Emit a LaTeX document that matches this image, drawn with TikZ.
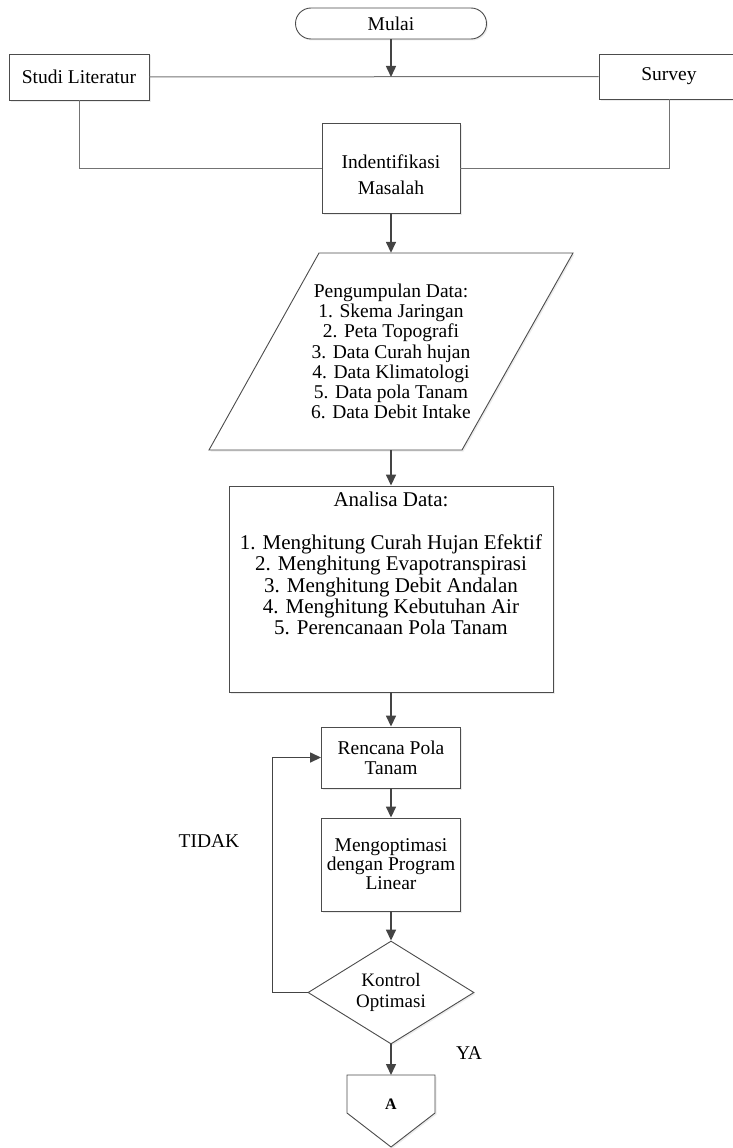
\documentclass[tikz,border=0pt]{standalone}
\usepackage{fontspec}
\setmainfont{Liberation Serif}
\usetikzlibrary{arrows.meta,shapes.geometric,shadows}
\definecolor{garis}{HTML}{444444}
\begin{document}
\begin{tikzpicture}[x=1pt,y=-1pt,
    kotak/.style={draw=black!70,line width=0.9pt,fill=white,align=center,inner sep=2pt,
        drop shadow={shadow xshift=1.5pt,shadow yshift=-1.5pt,fill=black!15},
        font=\fontsize{19.5}{20.5}\selectfont},
    panah/.style={draw=garis,line width=1.5pt,-{Triangle[length=11pt,width=10pt]}},
    tipis/.style={draw=black!55,line width=1pt},
    ket/.style={font=\fontsize{19.5}{20.5}\selectfont,align=center}]
    \clip (0,0) rectangle (733,1148);

    %Mulai dan kajian awal
    \node[kotak,rounded corners=15.5pt,minimum width=191pt,minimum height=31pt,inner sep=0pt] (mulai) at (391,23.5) {Mulai};
    \node[kotak,minimum width=140pt,minimum height=46pt] (studi) at (79,77) {Studi Literatur};
    \node[kotak,minimum width=140pt,minimum height=45pt] (survey) at (669,76.5) {Survey};
    \coordinate (jn) at (391,77);
    \node[kotak,minimum width=138pt,minimum height=90pt] (indent) at (391,168) {};
    \node[ket,font=\fontsize{19.5}{26}\selectfont] (indenttxt) at ([yshift=-7pt]indent.center) {Indentifikasi\\Masalah};

    \draw[tipis] (studi) -- (survey);
    \draw[tipis] (studi) |- (indent);
    \draw[tipis] (survey) |- (indent);
    \draw[panah] (mulai) -- (jn);

    %Pengumpulan data
    \draw[draw=black!70,line width=0.9pt,fill=white,drop shadow={shadow xshift=1.5pt,shadow yshift=-1.5pt,fill=black!15}]
        (319,253) -- (573,253) -- (462,450) -- (209,450) -- cycle;
    \node[ket,minimum height=197pt,font=\fontsize{19.5}{20.2}\selectfont] (data) at (391,351.5)
        {Pengumpulan Data:\\1. Skema Jaringan\\2. Peta Topografi\\3. Data Curah hujan\\4. Data Klimatologi\\5. Data pola Tanam\\6. Data Debit Intake};
    \draw[panah] (indent) -- (data.north);

    %Analisa
    \node[kotak,minimum width=324pt,minimum height=206pt] (analisa) at (391,589) {};
    \node[ket,anchor=north,inner sep=0pt,font=\fontsize{21}{21.3}\selectfont] (analisatxt) at ([yshift=-6pt]analisa.north)
        {Analisa Data:\\[22pt]1. Menghitung Curah Hujan Efektif\\2. Menghitung Evapotranspirasi\\3. Menghitung Debit Andalan\\4. Menghitung Kebutuhan Air\\5. Perencanaan Pola Tanam};
    \draw[panah] (data.south) -- (analisa);

    %Optimasi
    \node[kotak,minimum width=139pt,minimum height=61pt,font=\fontsize{19.5}{20}\selectfont] (rencana) at (391,757.5) {Rencana Pola\\Tanam};
    \node[kotak,minimum width=139pt,minimum height=93pt,font=\fontsize{19.5}{19}\selectfont] (optim) at (391,864.5) {Mengoptimasi\\dengan Program\\Linear};
    \node[kotak,diamond,aspect=1.6,inner sep=0pt,minimum width=166pt,minimum height=103pt,font=\fontsize{19}{21}\selectfont] (kontrol) at (391,992.5) {Kontrol\\Optimasi};
    \draw[panah] (analisa) -- (rencana);
    \draw[panah] (rencana) -- (optim);
    \draw[panah] (optim) -- (kontrol);
    \draw[panah] (kontrol.west) -- ++(-35,0) |- (rencana.west);
    \node[ket] (tidak) at (209,841) {TIDAK};
    \node[ket] (ya) at (469,1053) {YA};

    %Penghubung A
    \draw[draw=black!70,line width=0.9pt,fill=white,drop shadow={shadow xshift=1.5pt,shadow yshift=-1.5pt,fill=black!15}]
        (347,1075) -- (435,1075) -- (435,1113) -- (391,1147) -- (347,1113) -- cycle;
    \coordinate (offtop) at (391,1075);
    \node[font=\fontsize{16}{18}\selectfont] (offA) at (391,1104) {\textbf{A}};
    \draw[panah] (kontrol) -- (offtop);
\end{tikzpicture}
\end{document}
